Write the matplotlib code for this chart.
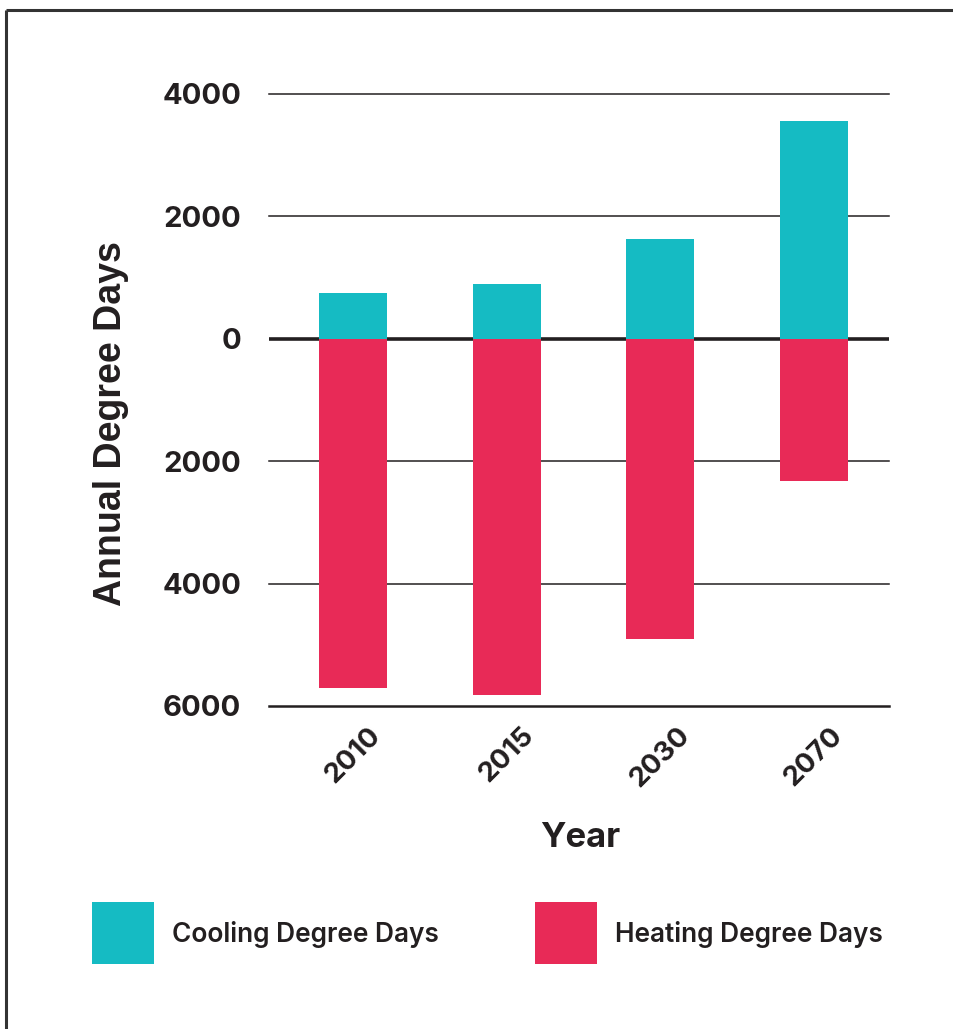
import matplotlib
matplotlib.use("Agg")
import matplotlib.pyplot as plt
from matplotlib.patches import Rectangle
from matplotlib.lines import Line2D
import numpy as np

years = ["2010", "2015", "2030", "2070"]
cooling = [750, 900, 1630, 3560]
heating = [5710, 5820, 4910, 2330]
ytick_vals = [4000, 2000, 0, -2000, -4000, -6000]
ytick_labels = ["4000", "2000", "0", "2000", "4000", "6000"]

CYAN = "#15BBC3"
RED = "#E82A57"
DARK = "#231F20"

W, H = 954, 1029
fig = plt.figure(figsize=(W / 100, H / 100), dpi=100)
ax = fig.add_axes([269 / W, 1 - 706 / H, 620 / W, 612 / H])

x = np.arange(len(years))
bw = 0.443
ax.bar(x, cooling, width=bw, color=CYAN, zorder=3, linewidth=0)
ax.bar(x, [-h for h in heating], width=bw, color=RED, zorder=3, linewidth=0)

ax.set_xlim(-0.55, 3.49)
ax.set_ylim(-6000, 4000)
for v in ytick_vals:
    if v == 0:
        ax.axhline(v, color=DARK, lw=2.6, zorder=2)
    elif v == -6000:
        ax.axhline(v, color=DARK, lw=1.8, zorder=2, clip_on=False)
    else:
        ax.axhline(v, color=DARK, lw=1.1, zorder=2, clip_on=False)

for s in ax.spines.values():
    s.set_visible(False)
ax.set_yticks(ytick_vals)
ax.set_yticklabels(ytick_labels, fontsize=21, fontweight="bold", family="Inter", color=DARK)
ax.set_xticks(x)
ax.set_xticklabels(years, fontsize=20, fontweight="bold", family="Inter", color=DARK,
                   rotation=45, ha="center")
ax.tick_params(axis="y", length=0, pad=20)
ax.tick_params(axis="x", length=0, pad=12)

fig.text(111 / W, 1 - 424 / H, "Annual Degree Days", rotation=90, ha="center", va="center",
         fontsize=27, fontweight="bold", family="Liberation Sans", color=DARK)
fig.text(580 / W, 1 - 838 / H, "Year", ha="center", va="center",
         fontsize=25, fontweight="bold", family="Inter", color=DARK)

# legend
fig.patches.append(Rectangle((92 / W, 1 - 964 / H), 62 / W, 62 / H, transform=fig.transFigure,
                             color=CYAN, lw=0))
fig.patches.append(Rectangle((535 / W, 1 - 964 / H), 62 / W, 62 / H, transform=fig.transFigure,
                             color=RED, lw=0))
fig.text(172 / W, 1 - 935 / H, "Cooling Degree Days", ha="left", va="center",
         fontsize=18.9, fontweight="semibold", family="Inter", color=DARK)
fig.text(615 / W, 1 - 935 / H, "Heating Degree Days", ha="left", va="center",
         fontsize=18.9, fontweight="semibold", family="Inter", color=DARK)

# frame
fig.add_artist(Line2D([6 / W, 6 / W], [0, 1 - 10 / H], transform=fig.transFigure,
                      color="#333333", lw=2.2, solid_capstyle="butt"))
fig.add_artist(Line2D([6 / W, 1.01], [1 - 10 / H, 1 - 10 / H], transform=fig.transFigure,
                      color="#333333", lw=2.2, solid_capstyle="butt"))

fig.savefig("out.png", dpi=100, facecolor="white")
